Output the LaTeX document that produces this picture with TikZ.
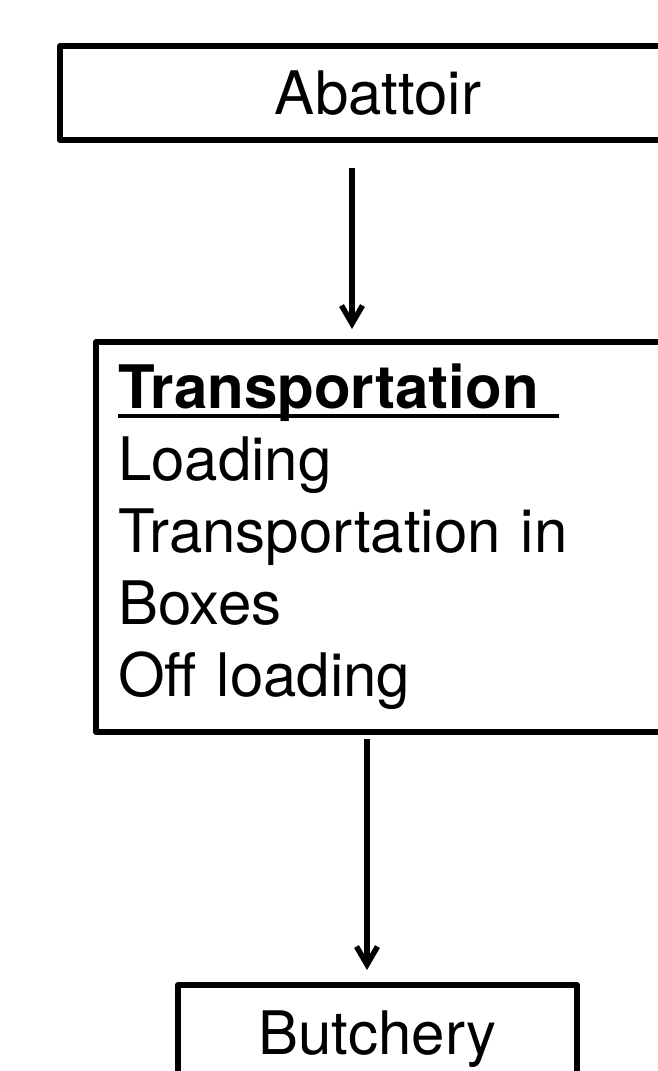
\documentclass[tikz,border=0pt]{standalone}
\usepackage{fontspec}
\setmainfont{TeX Gyre Heros}
\usetikzlibrary{arrows.meta,positioning}
\tikzset{
  >={Straight Barb[length=18pt,width=21pt]},
  box/.style={draw,line width=6pt,line join=round,outer sep=0pt,inner sep=0pt,
    font=\fontsize{60pt}{72pt}\selectfont},
  arrow/.style={->,line width=5.5pt},
}
\newcommand{\headline}[1]{\setbox0\hbox{#1}\rlap{\rule[-9pt]{\wd0}{3.5pt}}\box0}

\begin{document}
\begin{tikzpicture}[x=1pt,y=-1pt]
  \useasboundingbox (0,0) rectangle (658,1071);
  \clip (0,0) rectangle (658,1071);
  \node[box,minimum width=636pt,minimum height=94pt] (abattoir) at (378,93) {Abattoir};
  \node[box,anchor=north west,text width=576pt,inner xsep=22pt,minimum height=390pt,align=left] (transport) at (96,342)
    {\headline{\bfseries Transportation\ }\\
     Loading\\
     Transportation in\\
     Boxes\\
     Off loading};
  \node[box,minimum width=399pt,minimum height=95pt,text depth=0pt] (butchery) at (377.5,1032.5) {Butchery};
  \draw[arrow,shorten <=28pt,shorten >=13pt] ([xshift=-26pt]abattoir.south) -- ([xshift=-26pt]abattoir.south |- transport.north);
  \draw[arrow,shorten <=7pt,shorten >=15pt] ([xshift=-10.5pt]butchery.north |- transport.south) -- ([xshift=-10.5pt]butchery.north);
\end{tikzpicture}
\end{document}
